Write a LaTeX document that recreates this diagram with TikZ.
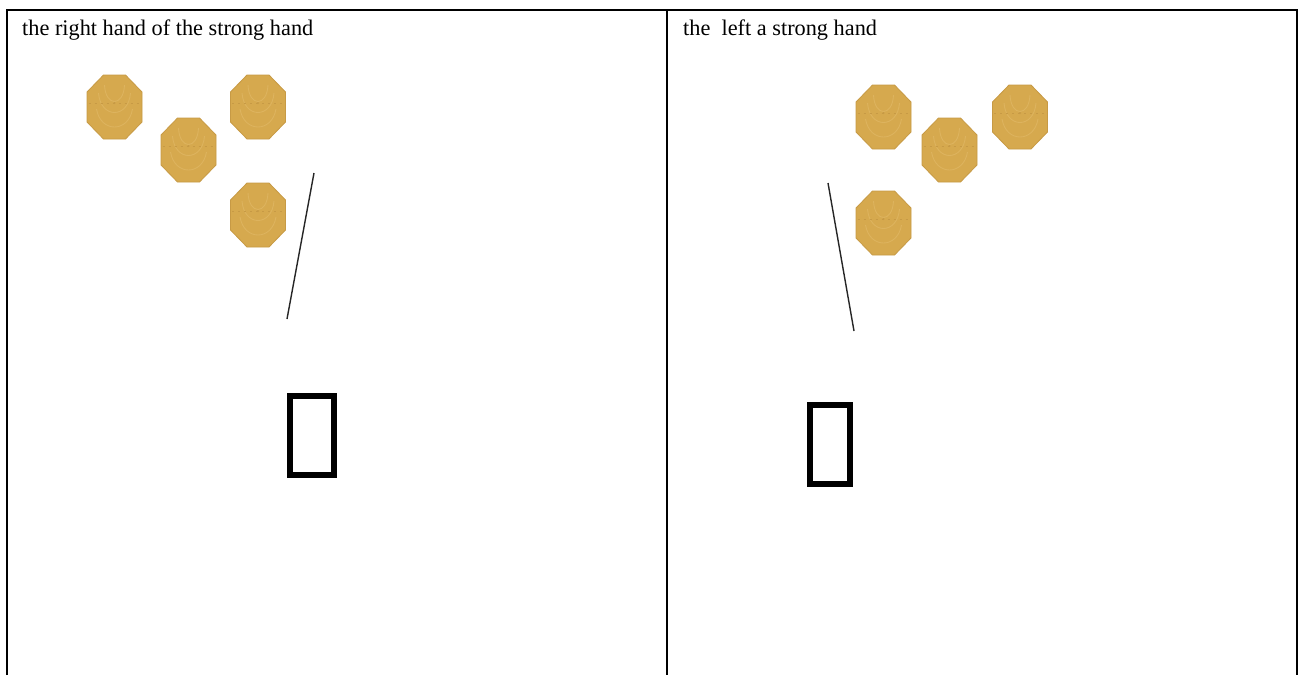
\documentclass[tikz,border=0pt]{standalone}
\usepackage{fontspec}
\setmainfont{Liberation Serif}
\definecolor{gold}{HTML}{D6A94E}
\definecolor{golddark}{HTML}{C79A45}
\definecolor{goldlight}{HTML}{DDB35E}
\tikzset{
  frame/.style={line width=2pt, black},
  hdr/.style={anchor=base west, inner sep=0pt, font=\fontsize{22.3}{26}\selectfont},
  stick/.style={line width=1.4pt, black!85},
  glyphbox/.style={line width=6pt, black},
  octa/.pic={
    \fill[gold, draw=golddark, line width=0.8pt]
      (-11,-32) -- (11,-32) -- (27.5,-15) -- (27.5,15) -- (11,32) -- (-11,32) -- (-27.5,15) -- (-27.5,-15) -- cycle;
    \draw[goldlight, line width=0.9pt] (-16,-14) .. controls (-14,12) and (14,12) .. (16,-14);
    \draw[goldlight, line width=0.9pt] (-10,-22) .. controls (-9,0) and (9,0) .. (10,-22);
    \draw[goldlight, line width=0.9pt] (-18,2) .. controls (-14,26) and (14,26) .. (18,2);
    \draw[golddark, line width=0.8pt, dash pattern=on 2pt off 4pt] (-26,-4) -- (26,-4);
    \fill[golddark] (0,-4) circle (1.2);
  }
}
\begin{document}
\begin{tikzpicture}[x=1pt,y=-1pt]
\useasboundingbox (0,0) rectangle (1300,675);
\fill[white] (0,0) rectangle (1300,675);
% table frame
\draw[frame] (7,675) -- (7,10) -- (1297,10) -- (1297,675);
\draw[frame] (667,10) -- (667,675);
% headers
\node[hdr] (hl) at (22,35) {the right hand of the strong hand};
\node[hdr] (hr) at (683,35) {the\ \ left a strong hand};
% left panel
\pic at (114.5,107) {octa};
\pic at (188.5,150) {octa};
\pic at (258,107) {octa};
\pic at (258,215) {octa};
\coordinate (l1) at (314,173);
\coordinate (l2) at (287,319);
\draw[stick] (l1) -- (l2);
\draw[glyphbox] (290,396) rectangle (334,475);
% right panel
\pic at (883.5,117) {octa};
\pic at (949.5,150) {octa};
\pic at (1020,117) {octa};
\pic at (883.5,223) {octa};
\coordinate (r1) at (828,183);
\coordinate (r2) at (854,331);
\draw[stick] (r1) -- (r2);
\draw[glyphbox] (810,405) rectangle (850,484);
\end{tikzpicture}
\end{document}
